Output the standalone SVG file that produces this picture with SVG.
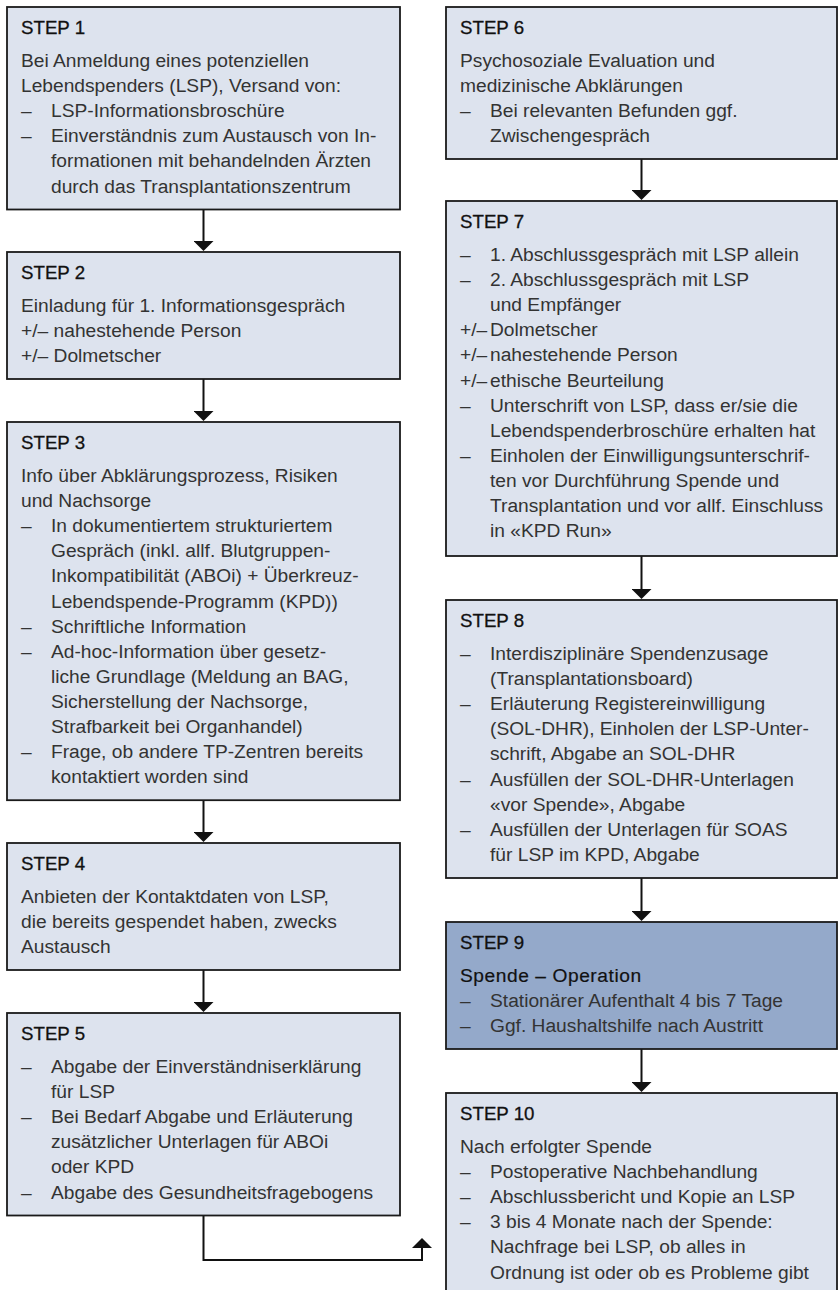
<svg xmlns="http://www.w3.org/2000/svg" width="838" height="1290" viewBox="0 0 838 1290">
<defs>
<style>
.box{fill:#dde3ee;stroke:#1a1a1a;stroke-width:1.8}
.dark{fill:#94a9ca}
.h{font-family:'Liberation Sans',Arial,sans-serif;font-size:18.7px;fill:#111;stroke:#111;stroke-width:0.3}
.t{font-family:'Liberation Sans',Arial,sans-serif;font-size:19.2px;fill:#333}
.sub{font-family:'Liberation Sans',Arial,sans-serif;font-size:19.2px;fill:#111;stroke:#111;stroke-width:0.2;letter-spacing:0.55px}
.c{fill:none;stroke:#111;stroke-width:2;marker-end:url(#ah)}
</style>
<marker id="ah" viewBox="0 0 10 20" refX="5" refY="10" markerWidth="10" markerHeight="20" markerUnits="userSpaceOnUse" orient="auto"><path d="M0,0 L10,10 L0,20 z" fill="#111"/></marker>
</defs>
<rect width="838" height="1290" fill="#fff"/>

<g id="connectors">
<path class="c" d="M203.5,209.5 V246"/>
<path class="c" d="M203.5,379 V416"/>
<path class="c" d="M203.5,800.2 V837"/>
<path class="c" d="M203.5,970 V1007"/>
<path class="c" d="M203.5,1215.5 V1260 H422 V1243"/>
<path class="c" d="M641.5,159 V195"/>
<path class="c" d="M641.5,556 V594"/>
<path class="c" d="M641.5,878 V916"/>
<path class="c" d="M641.5,1049 V1087"/>
</g>

<g id="step1">
<rect class="box" x="7" y="7" width="393" height="202.5"/>
<text class="h" x="21" y="34">STEP 1</text>
<text class="t">
<tspan x="21" y="67">Bei Anmeldung eines potenziellen</tspan>
<tspan x="21" y="92.1">Lebendspenders (LSP), Versand von:</tspan>
<tspan x="21" y="117.2">–</tspan><tspan x="51" y="117.2">LSP-Informationsbroschüre</tspan>
<tspan x="21" y="142.3">–</tspan><tspan x="51" y="142.3">Einverständnis zum Austausch von In-</tspan>
<tspan x="51" y="167.4">formationen mit behandelnden Ärzten</tspan>
<tspan x="51" y="192.5">durch das Transplantationszentrum</tspan>
</text>
</g>

<g id="step2">
<rect class="box" x="7" y="252" width="393" height="127"/>
<text class="h" x="21" y="279">STEP 2</text>
<text class="t">
<tspan x="21" y="312">Einladung für 1. Informationsgespräch</tspan>
<tspan x="21" y="337.1">+/– nahestehende Person</tspan>
<tspan x="21" y="362.2">+/– Dolmetscher</tspan>
</text>
</g>

<g id="step3">
<rect class="box" x="7" y="422" width="393" height="378.2"/>
<text class="h" x="21" y="449">STEP 3</text>
<text class="t">
<tspan x="21" y="482">Info über Abklärungsprozess, Risiken</tspan>
<tspan x="21" y="507.1">und Nachsorge</tspan>
<tspan x="21" y="532.2">–</tspan><tspan x="51" y="532.2">In dokumentiertem strukturiertem</tspan>
<tspan x="51" y="557.3">Gespräch (inkl. allf. Blutgruppen-</tspan>
<tspan x="51" y="582.4">Inkompatibilität (ABOi) + Überkreuz-</tspan>
<tspan x="51" y="607.5">Lebendspende-Programm (KPD))</tspan>
<tspan x="21" y="632.6">–</tspan><tspan x="51" y="632.6">Schriftliche Information</tspan>
<tspan x="21" y="657.7">–</tspan><tspan x="51" y="657.7">Ad-hoc-Information über gesetz-</tspan>
<tspan x="51" y="682.8">liche Grundlage (Meldung an BAG,</tspan>
<tspan x="51" y="707.9">Sicherstellung der Nachsorge,</tspan>
<tspan x="51" y="733">Strafbarkeit bei Organhandel)</tspan>
<tspan x="21" y="758.1">–</tspan><tspan x="51" y="758.1">Frage, ob andere TP-Zentren bereits</tspan>
<tspan x="51" y="783.2">kontaktiert worden sind</tspan>
</text>
</g>

<g id="step4">
<rect class="box" x="7" y="843" width="393" height="127"/>
<text class="h" x="21" y="870">STEP 4</text>
<text class="t">
<tspan x="21" y="903">Anbieten der Kontaktdaten von LSP,</tspan>
<tspan x="21" y="928.1">die bereits gespendet haben, zwecks</tspan>
<tspan x="21" y="953.2">Austausch</tspan>
</text>
</g>

<g id="step5">
<rect class="box" x="7" y="1013" width="393" height="202.5"/>
<text class="h" x="21" y="1040">STEP 5</text>
<text class="t">
<tspan x="21" y="1073">–</tspan><tspan x="51" y="1073">Abgabe der Einverständniserklärung</tspan>
<tspan x="51" y="1098.1">für LSP</tspan>
<tspan x="21" y="1123.2">–</tspan><tspan x="51" y="1123.2">Bei Bedarf Abgabe und Erläuterung</tspan>
<tspan x="51" y="1148.3">zusätzlicher Unterlagen für ABOi</tspan>
<tspan x="51" y="1173.4">oder KPD</tspan>
<tspan x="21" y="1198.5">–</tspan><tspan x="51" y="1198.5">Abgabe des Gesundheitsfragebogens</tspan>
</text>
</g>

<g id="step6">
<rect class="box" x="446" y="7" width="391" height="152"/>
<text class="h" x="460" y="34">STEP 6</text>
<text class="t">
<tspan x="460" y="67">Psychosoziale Evaluation und</tspan>
<tspan x="460" y="92.1">medizinische Abklärungen</tspan>
<tspan x="460" y="117.2">–</tspan><tspan x="490" y="117.2">Bei relevanten Befunden ggf.</tspan>
<tspan x="490" y="142.3">Zwischengespräch</tspan>
</text>
</g>

<g id="step7">
<rect class="box" x="446" y="201" width="391" height="355"/>
<text class="h" x="460" y="228">STEP 7</text>
<text class="t">
<tspan x="460" y="261">–</tspan><tspan x="490" y="261">1. Abschlussgespräch mit LSP allein</tspan>
<tspan x="460" y="286.1">–</tspan><tspan x="490" y="286.1">2. Abschlussgespräch mit LSP</tspan>
<tspan x="490" y="311.2">und Empfänger</tspan>
<tspan x="460" y="336.3">+/–</tspan><tspan x="490" y="336.3">Dolmetscher</tspan>
<tspan x="460" y="361.4">+/–</tspan><tspan x="490" y="361.4">nahestehende Person</tspan>
<tspan x="460" y="386.5">+/–</tspan><tspan x="490" y="386.5">ethische Beurteilung</tspan>
<tspan x="460" y="411.6">–</tspan><tspan x="490" y="411.6">Unterschrift von LSP, dass er/sie die</tspan>
<tspan x="490" y="436.7">Lebendspenderbroschüre erhalten hat</tspan>
<tspan x="460" y="461.8">–</tspan><tspan x="490" y="461.8">Einholen der Einwilligungsunterschrif-</tspan>
<tspan x="490" y="486.9">ten vor Durchführung Spende und</tspan>
<tspan x="490" y="512">Transplantation und vor allf. Einschluss</tspan>
<tspan x="490" y="537.1">in «KPD Run»</tspan>
</text>
</g>

<g id="step8">
<rect class="box" x="446" y="600" width="391" height="278"/>
<text class="h" x="460" y="627">STEP 8</text>
<text class="t">
<tspan x="460" y="660">–</tspan><tspan x="490" y="660">Interdisziplinäre Spendenzusage</tspan>
<tspan x="490" y="685.1">(Transplantationsboard)</tspan>
<tspan x="460" y="710.2">–</tspan><tspan x="490" y="710.2">Erläuterung Registereinwilligung</tspan>
<tspan x="490" y="735.3">(SOL-DHR), Einholen der LSP-Unter-</tspan>
<tspan x="490" y="760.4">schrift, Abgabe an SOL-DHR</tspan>
<tspan x="460" y="785.5">–</tspan><tspan x="490" y="785.5">Ausfüllen der SOL-DHR-Unterlagen</tspan>
<tspan x="490" y="810.6">«vor Spende», Abgabe</tspan>
<tspan x="460" y="835.7">–</tspan><tspan x="490" y="835.7">Ausfüllen der Unterlagen für SOAS</tspan>
<tspan x="490" y="860.8">für LSP im KPD, Abgabe</tspan>
</text>
</g>

<g id="step9">
<rect class="box dark" x="446" y="922" width="391" height="127"/>
<text class="h" x="460" y="949">STEP 9</text>
<text class="sub" x="460" y="982">Spende – Operation</text>
<text class="t">
<tspan x="460" y="1007.1">–</tspan><tspan x="490" y="1007.1">Stationärer Aufenthalt 4 bis 7 Tage</tspan>
<tspan x="460" y="1032.2">–</tspan><tspan x="490" y="1032.2">Ggf. Haushaltshilfe nach Austritt</tspan>
</text>
</g>

<g id="step10">
<rect class="box" x="446" y="1093" width="391" height="202.5"/>
<text class="h" x="460" y="1120">STEP 10</text>
<text class="t">
<tspan x="460" y="1153">Nach erfolgter Spende</tspan>
<tspan x="460" y="1178.1">–</tspan><tspan x="490" y="1178.1">Postoperative Nachbehandlung</tspan>
<tspan x="460" y="1203.2">–</tspan><tspan x="490" y="1203.2">Abschlussbericht und Kopie an LSP</tspan>
<tspan x="460" y="1228.3">–</tspan><tspan x="490" y="1228.3">3 bis 4 Monate nach der Spende:</tspan>
<tspan x="490" y="1253.4">Nachfrage bei LSP, ob alles in</tspan>
<tspan x="490" y="1278.5">Ordnung ist oder ob es Probleme gibt</tspan>
</text>
</g>
</svg>
